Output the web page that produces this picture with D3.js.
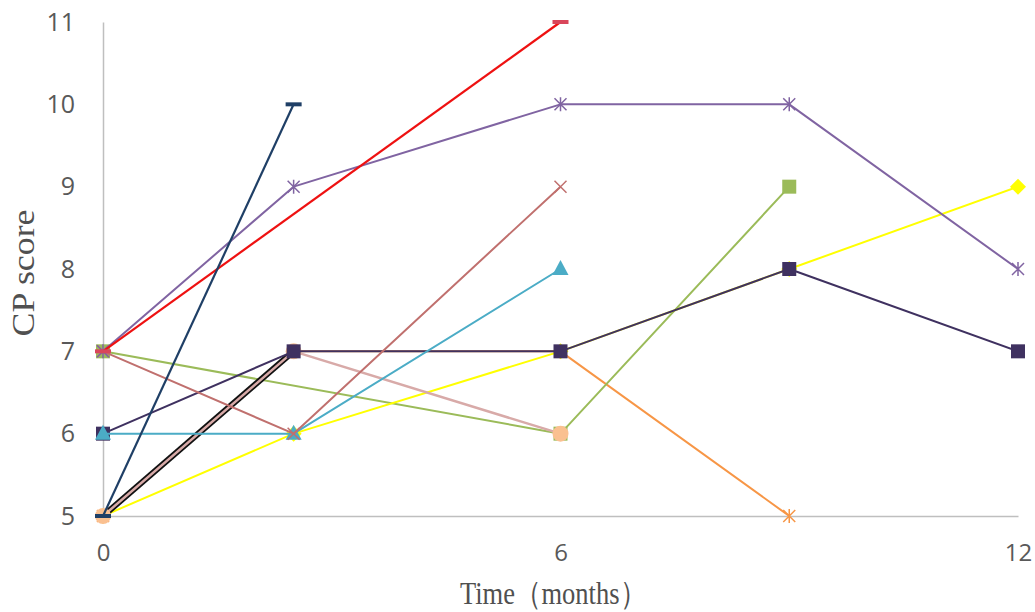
<!DOCTYPE html>
<html><head><meta charset="utf-8">
<script src="https://cdn.jsdelivr.net/npm/d3@7"></script>
<style>body{margin:0;background:#fff}svg{display:block}</style>
</head><body>
<svg id="c" width="1035" height="612"></svg>
<script>
// Data
const months = [0, 2.5, 6, 9, 12];
const xTicks = [0, 6, 12];
const yTicks = [5, 6, 7, 8, 9, 10, 11];
const orangeS   = [5, 7, 7, 5, null];
const greenS    = [7, null, 6, 9, null];
const yellowS   = [5, 6, 7, 8, 9];
const blackS    = [5, 7, null, null, null];
const pinkS     = [5, 7, 6, null, null];
const darkPurpS = [6, 7, 7, 8, 7];
const cyanS     = [6, 6, 8, null, null];
const rosyS     = [7, 6, 9, null, null];
const purpleS   = [7, 9, 10, 10, 8];
const redS      = [7, null, 11, null, null];
const navyS     = [5, 10, null, null, null];

const series = [
  {v: orangeS,   c: "#f79646", w: 2, m: "star"},
  {v: greenS,    c: "#9bbb59", w: 2, m: "square"},
  {v: yellowS,   c: "#ffff00", w: 2, m: "diamond"},
  {v: blackS,    c: "#111111", w: 6, m: null},
  {v: pinkS,     c: "#d8aaa8", w: 2.5, m: "circle", mf: "#fac090"},
  {v: darkPurpS, c: "#3f3160", w: 2, m: "square"},
  {v: cyanS,     c: "#4bacc6", w: 2, m: "triangle"},
  {v: rosyS,     c: "#c0706e", w: 2, m: "x"},
  {v: purpleS,   c: "#8064a2", w: 2, m: "star"},
  {v: redS,      c: "#ee1111", w: 2.2, m: "dash", mf: "#d9465a"},
  {v: navyS,     c: "#1f3f66", w: 2.2, m: "dash"}
];

const svg = d3.select("#c");
const x = d3.scaleLinear().domain([0, 12]).range([103, 1018]);
const y = d3.scaleLinear().domain([5, 11]).range([516, 22]);

const tickFont = "Open Sans, sans-serif";
const xAxis = svg.append("g").attr("transform", `translate(0,${y(5)})`)
  .call(d3.axisBottom(x).tickValues(xTicks).tickFormat(d3.format("d")).tickSize(0).tickPadding(28));
xAxis.select(".domain").attr("stroke", "#bfbfbf").attr("stroke-width", 1.5);
xAxis.selectAll("text").attr("font-family", tickFont).attr("font-size", 24).attr("fill", "#595959");

const yAxis = svg.append("g").attr("transform", `translate(${x(0)},0)`)
  .call(d3.axisLeft(y).tickValues(yTicks).tickFormat(d3.format("d")).tickSize(0).tickPadding(28));
yAxis.select(".domain").attr("stroke", "#bfbfbf").attr("stroke-width", 1.5);
yAxis.selectAll("text").attr("font-family", tickFont).attr("font-size", 25).attr("fill", "#595959");

// titles
svg.append("text").attr("transform", `translate(34,273) rotate(-90)`)
  .attr("text-anchor", "middle").attr("font-family", "Liberation Serif, serif")
  .attr("font-size", 31).attr("textLength", 127).attr("lengthAdjust", "spacingAndGlyphs")
  .attr("fill", "#505050").text("CP score");
svg.append("text").attr("x", 553).attr("y", 604).attr("text-anchor", "middle")
  .attr("font-family", "Liberation Serif, serif").attr("font-size", 32).attr("fill", "#505050")
  .attr("textLength", 186).attr("lengthAdjust", "spacingAndGlyphs")
  .text("Time（months）");

const line = d3.line().x(d => x(d.t)).y(d => y(d.v));

function marker(g, type, cx, cy, s) {
  const col = s.c, fill = s.mf || s.c;
  if (type === "square") {
    g.append("rect").attr("x", cx - 7).attr("y", cy - 7).attr("width", 14).attr("height", 14).attr("fill", fill);
  } else if (type === "diamond") {
    g.append("path").attr("d", `M${cx},${cy-8}L${cx+8},${cy}L${cx},${cy+8}L${cx-8},${cy}Z`).attr("fill", fill);
  } else if (type === "triangle") {
    g.append("path").attr("d", `M${cx},${cy-9}L${cx+8},${cy+6}L${cx-8},${cy+6}Z`).attr("fill", fill);
  } else if (type === "circle") {
    g.append("circle").attr("cx", cx).attr("cy", cy).attr("r", 8).attr("fill", fill);
  } else if (type === "x") {
    g.append("path").attr("d", `M${cx-6},${cy-6}L${cx+6},${cy+6}M${cx-6},${cy+6}L${cx+6},${cy-6}`)
      .attr("stroke", col).attr("stroke-width", 1.5);
  } else if (type === "star") {
    g.append("path").attr("d", `M${cx-6},${cy-6}L${cx+6},${cy+6}M${cx-6},${cy+6}L${cx+6},${cy-6}M${cx},${cy-7}L${cx},${cy+7}`)
      .attr("stroke", col).attr("stroke-width", 1.5);
  } else if (type === "dash") {
    g.append("rect").attr("x", cx - 8).attr("y", cy - 2).attr("width", 16).attr("height", 4).attr("fill", fill);
  }
}

series.forEach(s => {
  const pts = months.map((t, i) => ({t, v: s.v[i]})).filter(d => d.v !== null);
  const g = svg.append("g");
  g.append("path").attr("d", line(pts)).attr("fill", "none")
    .attr("stroke", s.c).attr("stroke-width", s.w).attr("stroke-linejoin", "round");
  if (s.m) pts.forEach(d => marker(g, s.m, x(d.t), y(d.v), s));
});
</script>
</body></html>
